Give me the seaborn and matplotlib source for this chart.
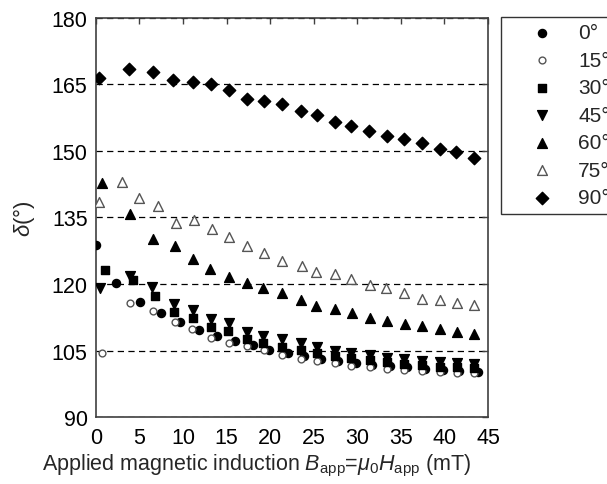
import matplotlib
matplotlib.use("Agg")
import matplotlib.pyplot as plt
import seaborn as sns
import numpy as np

sns.set_theme(style="white")
plt.rcParams['font.family'] = ['Liberation Sans', 'DejaVu Sans']
plt.rcParams['mathtext.fontset'] = 'custom'
plt.rcParams['mathtext.rm'] = 'Liberation Sans'
plt.rcParams['mathtext.it'] = 'Liberation Sans:italic'

labels = ["0°", "15°", "30°", "45°", "60°", "75°", "90°"]

x_0 = [0.0, 2.3, 5.05, 7.5, 9.6, 11.8, 13.9, 16.0, 18.0, 19.9, 22.0,
       23.9, 25.8, 27.8, 29.8, 31.7, 33.7, 35.7, 37.8, 39.8, 41.7, 43.8]
y_0 = [128.8, 120.2, 115.9, 113.4, 111.4, 109.7, 108.2, 107.2, 106.3, 105.2, 104.4,
       103.8, 103.2, 102.7, 102.2, 101.8, 101.5, 101.2, 100.9, 100.7, 100.4, 100.2]

x_tail = [23.5, 25.4, 27.4, 29.3, 31.4, 33.4, 35.4, 37.4, 39.5, 41.4, 43.4]

x_15 = [0.65, 3.94, 6.54, 9.07, 11.0, 13.2, 15.3, 17.3, 19.25, 21.3] + x_tail
y_15 = [104.4, 115.7, 113.9, 111.5, 109.8, 107.8, 106.8, 106.1, 105.1, 104.0,
        103.2, 102.6, 102.1, 101.6, 101.3, 100.9, 100.7, 100.4, 100.2, 100.0, 99.9]

x_30 = [1.1, 4.28, 6.77, 8.99, 11.1, 13.2, 15.2, 17.3, 19.2, 21.4] + x_tail
y_30 = [123.2, 120.9, 117.4, 113.8, 112.3, 110.2, 109.5, 107.7, 106.8, 105.9,
        105.1, 104.4, 103.8, 103.3, 102.8, 102.4, 102.0, 101.7, 101.4, 101.2, 101.0]

x_45 = [0.46, 3.9, 6.46, 8.95, 11.1, 13.2, 15.3, 17.3, 19.2, 21.3] + x_tail
y_45 = [119.0, 121.7, 119.4, 115.6, 114.1, 112.1, 111.1, 109.2, 108.3, 107.6,
        106.6, 105.8, 105.0, 104.4, 103.9, 103.4, 103.0, 102.7, 102.4, 102.2, 102.0]

x_60 = [0.65, 3.94, 6.58, 9.04, 11.1, 13.15, 15.27, 17.3, 19.2, 21.35, 23.5,
        25.3, 27.4, 29.35, 31.4, 33.4, 35.5, 37.4, 39.5, 41.4, 43.4]
y_60 = [142.8, 135.9, 130.1, 128.6, 125.6, 123.3, 121.6, 120.2, 119.1, 117.9, 116.5,
        115.0, 114.4, 113.4, 112.3, 111.7, 110.9, 110.6, 109.8, 109.2, 108.7]

x_75 = [0.34, 2.95, 5.0, 7.1, 9.2, 11.25, 13.35, 15.3, 17.3, 19.25, 21.35,
        23.6, 25.3, 27.4, 29.3, 31.4, 33.3, 35.4, 37.4, 39.5, 41.4, 43.4]
y_75 = [138.6, 143.1, 139.3, 137.5, 133.8, 134.4, 132.4, 130.7, 128.6, 126.9, 125.3,
        124.0, 122.8, 122.2, 121.1, 119.8, 119.0, 118.0, 116.6, 116.4, 115.7, 115.3]

x_90 = [0.34, 3.79, 6.54, 8.84, 11.1, 13.2, 15.3, 17.3, 19.3, 21.4, 23.5,
        25.4, 27.4, 29.3, 31.3, 33.4, 35.4, 37.4, 39.5, 41.3, 43.4]
y_90 = [166.5, 168.5, 167.8, 166.1, 165.5, 165.1, 163.7, 161.7, 161.3, 160.7, 159.0,
        158.0, 156.5, 155.6, 154.5, 153.4, 152.7, 151.8, 150.4, 149.8, 148.4]

x_ticks = [0, 5, 10, 15, 20, 25, 30, 35, 40, 45]
y_ticks = [90, 105, 120, 135, 150, 165, 180]

series = [
    (x_0, y_0, "o", "black", "black", 34, 1.0),
    (x_15, y_15, "o", "white", "#555555", 24, 1.0),
    (x_30, y_30, "s", "black", "black", 26, 1.0),
    (x_45, y_45, "v", "black", "black", 50, 1.0),
    (x_60, y_60, "^", "black", "black", 50, 1.0),
    (x_75, y_75, "^", "white", "#555555", 50, 1.0),
    (x_90, y_90, "D", "black", "black", 40, 1.0),
]

fig = plt.figure(figsize=(6.07, 4.85), dpi=100)
ax = fig.add_axes([0.158, 0.138, 0.646, 0.823])

for (xs, ys, m, fc, ec, s, lw), lab in zip(series, labels):
    sns.scatterplot(x=xs, y=ys, ax=ax, marker=m, s=s, color=fc,
                    edgecolor=ec, linewidth=lw, label=lab, zorder=3)

ax.set_xlim(0, 45)
ax.set_ylim(90, 180)
ax.set_xticks(x_ticks)
ax.set_yticks(y_ticks)
ax.tick_params(direction="in", top=True, right=True, length=4, width=1,
               color="#404040", labelsize=15.5, labelcolor="black", pad=6)
ax.tick_params(axis="x", pad=7)
for sp in ax.spines.values():
    sp.set_color("#404040")
    sp.set_linewidth(1.2)
ax.grid(axis="y", color="black", linestyle=(0, (5, 3.5)), linewidth=0.9)
ax.grid(axis="x", visible=False)
ax.set_axisbelow(True)

ax.set_ylabel(r"$\mathit{\delta}$(°)", fontsize=16)
ax.yaxis.set_label_coords(-0.15, 0.5)
ax.set_xlabel(r"Applied magnetic induction $\mathit{B}_{\mathrm{app}}$=$\mathit{\mu}_{0}\mathit{H}_{\mathrm{app}}$ (mT)",
              fontsize=15.5)
ax.xaxis.set_label_coords(0.41, -0.088)

leg = ax.legend(loc="upper left", bbox_to_anchor=(0.825, 0.963),
                bbox_transform=fig.transFigure, fontsize=15, frameon=True,
                fancybox=False, edgecolor="black", borderpad=0.3,
                handlelength=3.4, handletextpad=0.02, labelspacing=0.41,
                borderaxespad=0)
leg.get_frame().set_linewidth(1.0)

fig.savefig("out.png", dpi=100)
